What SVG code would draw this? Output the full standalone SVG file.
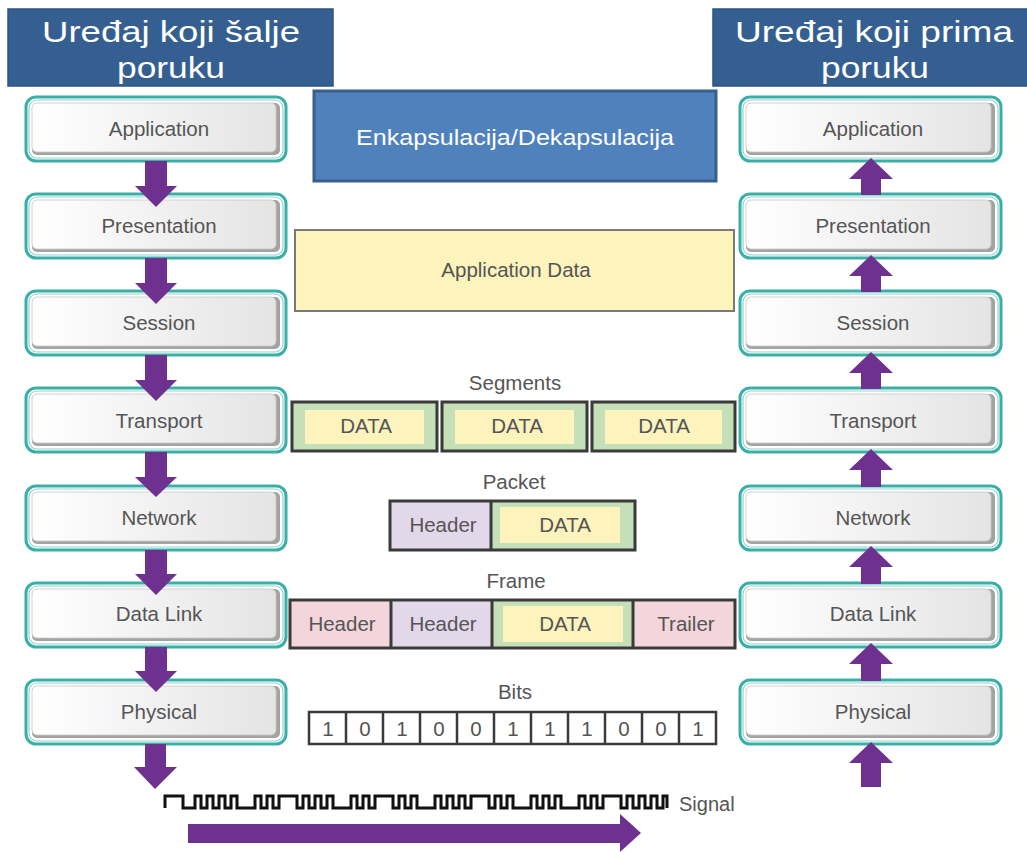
<svg xmlns="http://www.w3.org/2000/svg" width="1027" height="852" viewBox="0 0 1027 852">
<defs>
<linearGradient id="lg" x1="0" y1="0" x2="1" y2="0">
<stop offset="0" stop-color="#ffffff"/>
<stop offset="1" stop-color="#e4e4e4"/>
</linearGradient>
<style>
.title{fill:#365f91;stroke:#2e5381;stroke-width:1.5}
.tt{font-family:"Liberation Sans",Arial,sans-serif;font-size:30px;fill:#ffffff;text-anchor:middle}
.ring{fill:#ffffff;stroke:#3aafa7;stroke-width:3}
.ring2{fill:none;stroke:#8fd6d0;stroke-width:1.2}
.shadow{fill:#a3a3a3}
.inner{fill:url(#lg);stroke:#c8c8c8;stroke-width:0.8}
.lt{font-family:"Liberation Sans",Arial,sans-serif;font-size:20.5px;fill:#555555;text-anchor:middle}
.arr{fill:#6f3190}
.box{stroke:#3a3a3a;stroke-width:3}
.green{fill:#c5dfb9}
.yellow{fill:#fdf3bd}
.lav{fill:#e3d8ea}
.pink{fill:#f3d6dc}
.bit{fill:#ffffff;stroke:#3a3a3a;stroke-width:2.5}
</style>
</defs>
<rect width="1027" height="852" fill="#ffffff"/>

<g id="title-left">
<rect class="title" x="8" y="9" width="325" height="77"/>
<text class="tt" x="171" y="42" textLength="258" lengthAdjust="spacingAndGlyphs">Uređaj koji šalje</text>
<text class="tt" x="171" y="78" textLength="108" lengthAdjust="spacingAndGlyphs">poruku</text>
</g>
<g id="title-right">
<rect class="title" x="713" y="9" width="316" height="77"/>
<text class="tt" x="874" y="42" textLength="278" lengthAdjust="spacingAndGlyphs">Uređaj koji prima</text>
<text class="tt" x="875" y="78" textLength="108" lengthAdjust="spacingAndGlyphs">poruku</text>
</g>

<g id="encap">
<rect x="314" y="91" width="402" height="90" fill="#4f81bd" stroke="#3b5f8b" stroke-width="3"/>
<text x="515" y="145" font-family="'Liberation Sans',Arial,sans-serif" font-size="22px" fill="#ffffff" text-anchor="middle" textLength="318" lengthAdjust="spacingAndGlyphs">Enkapsulacija/Dekapsulacija</text>
</g>

<!-- left layers -->
<g id="l-app"><rect class="ring" x="26" y="97" width="260" height="64" rx="10"/><rect class="ring2" x="29" y="100" width="254" height="58" rx="8"/><rect class="shadow" x="32" y="103" width="248" height="52" rx="5"/><rect class="inner" x="32" y="103" width="244" height="49" rx="5"/><text class="lt" x="159" y="136">Application</text></g>
<g id="l-pres"><rect class="ring" x="26" y="194" width="260" height="64" rx="10"/><rect class="ring2" x="29" y="197" width="254" height="58" rx="8"/><rect class="shadow" x="32" y="200" width="248" height="52" rx="5"/><rect class="inner" x="32" y="200" width="244" height="49" rx="5"/><text class="lt" x="159" y="233">Presentation</text></g>
<g id="l-sess"><rect class="ring" x="26" y="291" width="260" height="64" rx="10"/><rect class="ring2" x="29" y="294" width="254" height="58" rx="8"/><rect class="shadow" x="32" y="297" width="248" height="52" rx="5"/><rect class="inner" x="32" y="297" width="244" height="49" rx="5"/><text class="lt" x="159" y="330">Session</text></g>
<g id="l-trans"><rect class="ring" x="26" y="388" width="260" height="64" rx="10"/><rect class="ring2" x="29" y="391" width="254" height="58" rx="8"/><rect class="shadow" x="32" y="394" width="248" height="52" rx="5"/><rect class="inner" x="32" y="394" width="244" height="49" rx="5"/><text class="lt" x="159" y="428">Transport</text></g>
<g id="l-net"><rect class="ring" x="26" y="486" width="260" height="64" rx="10"/><rect class="ring2" x="29" y="489" width="254" height="58" rx="8"/><rect class="shadow" x="32" y="492" width="248" height="52" rx="5"/><rect class="inner" x="32" y="492" width="244" height="49" rx="5"/><text class="lt" x="159" y="525">Network</text></g>
<g id="l-dl"><rect class="ring" x="26" y="583" width="260" height="64" rx="10"/><rect class="ring2" x="29" y="586" width="254" height="58" rx="8"/><rect class="shadow" x="32" y="589" width="248" height="52" rx="5"/><rect class="inner" x="32" y="589" width="244" height="49" rx="5"/><text class="lt" x="159" y="621">Data Link</text></g>
<g id="l-phy"><rect class="ring" x="26" y="680" width="260" height="64" rx="10"/><rect class="ring2" x="29" y="683" width="254" height="58" rx="8"/><rect class="shadow" x="32" y="686" width="248" height="52" rx="5"/><rect class="inner" x="32" y="686" width="244" height="49" rx="5"/><text class="lt" x="159" y="719">Physical</text></g>

<!-- right layers -->
<g id="r-app"><rect class="ring" x="740" y="97" width="261" height="64" rx="10"/><rect class="ring2" x="743" y="100" width="255" height="58" rx="8"/><rect class="shadow" x="746" y="103" width="249" height="52" rx="5"/><rect class="inner" x="746" y="103" width="245" height="49" rx="5"/><text class="lt" x="873" y="136">Application</text></g>
<g id="r-pres"><rect class="ring" x="740" y="194" width="261" height="64" rx="10"/><rect class="ring2" x="743" y="197" width="255" height="58" rx="8"/><rect class="shadow" x="746" y="200" width="249" height="52" rx="5"/><rect class="inner" x="746" y="200" width="245" height="49" rx="5"/><text class="lt" x="873" y="233">Presentation</text></g>
<g id="r-sess"><rect class="ring" x="740" y="291" width="261" height="64" rx="10"/><rect class="ring2" x="743" y="294" width="255" height="58" rx="8"/><rect class="shadow" x="746" y="297" width="249" height="52" rx="5"/><rect class="inner" x="746" y="297" width="245" height="49" rx="5"/><text class="lt" x="873" y="330">Session</text></g>
<g id="r-trans"><rect class="ring" x="740" y="388" width="261" height="64" rx="10"/><rect class="ring2" x="743" y="391" width="255" height="58" rx="8"/><rect class="shadow" x="746" y="394" width="249" height="52" rx="5"/><rect class="inner" x="746" y="394" width="245" height="49" rx="5"/><text class="lt" x="873" y="428">Transport</text></g>
<g id="r-net"><rect class="ring" x="740" y="486" width="261" height="64" rx="10"/><rect class="ring2" x="743" y="489" width="255" height="58" rx="8"/><rect class="shadow" x="746" y="492" width="249" height="52" rx="5"/><rect class="inner" x="746" y="492" width="245" height="49" rx="5"/><text class="lt" x="873" y="525">Network</text></g>
<g id="r-dl"><rect class="ring" x="740" y="583" width="261" height="64" rx="10"/><rect class="ring2" x="743" y="586" width="255" height="58" rx="8"/><rect class="shadow" x="746" y="589" width="249" height="52" rx="5"/><rect class="inner" x="746" y="589" width="245" height="49" rx="5"/><text class="lt" x="873" y="621">Data Link</text></g>
<g id="r-phy"><rect class="ring" x="740" y="680" width="261" height="64" rx="10"/><rect class="ring2" x="743" y="683" width="255" height="58" rx="8"/><rect class="shadow" x="746" y="686" width="249" height="52" rx="5"/><rect class="inner" x="746" y="686" width="245" height="49" rx="5"/><text class="lt" x="873" y="719">Physical</text></g>

<!-- center data units -->
<g id="appdata">
<rect x="295" y="230" width="439" height="81" fill="#fdf3bd" stroke="#7a7a7a" stroke-width="2"/>
<text class="lt" x="516" y="277">Application Data</text>
</g>

<g id="segments">
<text class="lt" x="515" y="390">Segments</text>
<rect class="box green" x="292" y="402" width="145" height="49"/><rect class="yellow" x="305" y="410" width="119" height="34"/><text class="lt" x="366" y="433">DATA</text>
<rect class="box green" x="442" y="402" width="145" height="49"/><rect class="yellow" x="455" y="410" width="119" height="34"/><text class="lt" x="517" y="433">DATA</text>
<rect class="box green" x="592" y="402" width="143" height="49"/><rect class="yellow" x="605" y="410" width="117" height="34"/><text class="lt" x="664" y="433">DATA</text>
</g>

<g id="packet">
<text class="lt" x="514" y="489">Packet</text>
<rect class="lav" x="390" y="501" width="101" height="49"/>
<rect class="green" x="491" y="501" width="144" height="49"/>
<rect class="yellow" x="500" y="507" width="120" height="36"/>
<rect x="390" y="501" width="245" height="49" fill="none" stroke="#3a3a3a" stroke-width="3"/>
<line x1="491" y1="501" x2="491" y2="550" stroke="#3a3a3a" stroke-width="3"/>
<text class="lt" x="443" y="532">Header</text>
<text class="lt" x="565" y="532">DATA</text>
</g>

<g id="frame">
<text class="lt" x="516" y="588">Frame</text>
<rect class="pink" x="290" y="600" width="101" height="48"/>
<rect class="lav" x="391" y="600" width="101" height="48"/>
<rect class="green" x="492" y="600" width="141" height="48"/>
<rect class="yellow" x="503" y="606" width="120" height="36"/>
<rect class="pink" x="633" y="600" width="102" height="48"/>
<rect x="290" y="600" width="445" height="48" fill="none" stroke="#3a3a3a" stroke-width="3"/>
<line x1="391" y1="600" x2="391" y2="648" stroke="#3a3a3a" stroke-width="3"/>
<line x1="492" y1="600" x2="492" y2="648" stroke="#3a3a3a" stroke-width="3"/>
<line x1="633" y1="600" x2="633" y2="648" stroke="#3a3a3a" stroke-width="3"/>
<text class="lt" x="342" y="631">Header</text>
<text class="lt" x="443" y="631">Header</text>
<text class="lt" x="565" y="631">DATA</text>
<text class="lt" x="686" y="631">Trailer</text>
</g>

<g id="bits">
<text class="lt" x="515" y="699">Bits</text>
<rect class="bit" x="309" y="712" width="407" height="32"/>
<g stroke="#3a3a3a" stroke-width="2.5">
<line x1="346" y1="712" x2="346" y2="744"/><line x1="383" y1="712" x2="383" y2="744"/><line x1="420" y1="712" x2="420" y2="744"/><line x1="457" y1="712" x2="457" y2="744"/><line x1="494" y1="712" x2="494" y2="744"/><line x1="531" y1="712" x2="531" y2="744"/><line x1="568" y1="712" x2="568" y2="744"/><line x1="605" y1="712" x2="605" y2="744"/><line x1="642" y1="712" x2="642" y2="744"/><line x1="679" y1="712" x2="679" y2="744"/>
</g>
<text class="lt" x="328" y="736">1</text><text class="lt" x="365" y="736">0</text><text class="lt" x="402" y="736">1</text><text class="lt" x="439" y="736">0</text><text class="lt" x="476" y="736">0</text><text class="lt" x="513" y="736">1</text><text class="lt" x="550" y="736">1</text><text class="lt" x="587" y="736">1</text><text class="lt" x="624" y="736">0</text><text class="lt" x="661" y="736">0</text><text class="lt" x="698" y="736">1</text>
</g>

<g id="signal">
<path d="M165,808 V796 H183 V808 H195 V796 H201 V808 H207 V796 H213 V808 H219 V796 H225 V808 H231 V796 H237 V808 H255 V796 H261 V808 H267 V796 H273 V808 H279 V796 H297 V808 H303 V796 H309 V808 H315 V796 H321 V808 H327 V796 H333 V808 H351 V796 H357 V808 H363 V796 H369 V808 H375 V796 H393 V808 H399 V796 H405 V808 H411 V796 H417 V808 H435 V796 H441 V808 H447 V796 H453 V808 H459 V796 H465 V808 H471 V796 H489 V808 H495 V796 H501 V808 H507 V796 H513 V808 H531 V796 H537 V808 H543 V796 H549 V808 H555 V796 H561 V808 H579 V796 H585 V808 H591 V796 H597 V808 H603 V796 H621 V808 H627 V796 H633 V808 H639 V796 H645 V808 H651 V796 H657 V808 H663 V796 H667 V808" fill="none" stroke="#111111" stroke-width="3"/>
<text x="679" y="811" font-family="'Liberation Sans',Arial,sans-serif" font-size="20px" fill="#555555">Signal</text>
</g>

<g id="connectors">
<!-- left down arrows -->
<polygon class="arr" points="145,161 167,161 167,186 177,186 156,207 135,186 145,186"/>
<polygon class="arr" points="145,258 167,258 167,283 177,283 156,304 135,283 145,283"/>
<polygon class="arr" points="145,355 167,355 167,380 177,380 156,401 135,380 145,380"/>
<polygon class="arr" points="145,452 167,452 167,477 177,477 156,497 135,477 145,477"/>
<polygon class="arr" points="145,550 167,550 167,574 177,574 156,595 135,574 145,574"/>
<polygon class="arr" points="145,647 167,647 167,671 177,671 156,692 135,671 145,671"/>
<polygon class="arr" points="145,744 166,744 166,767 177,767 155,789 134,767 145,767"/>
<!-- right up arrows -->
<polygon class="arr" points="861,195 881,195 881,179 893,179 871,158 849,179 861,179"/>
<polygon class="arr" points="861,292 881,292 881,276 893,276 871,255 849,276 861,276"/>
<polygon class="arr" points="861,389 881,389 881,373 893,373 871,352 849,373 861,373"/>
<polygon class="arr" points="861,487 881,487 881,470 893,470 871,449 849,470 861,470"/>
<polygon class="arr" points="861,584 881,584 881,567 893,567 871,546 849,567 861,567"/>
<polygon class="arr" points="861,681 881,681 881,664 893,664 871,643 849,664 861,664"/>
<polygon class="arr" points="861,787 881,787 881,763 893,763 871,742 849,763 861,763"/>
<!-- signal arrow -->
<polygon class="arr" points="188,824 620,824 620,814 641,833 620,852 620,843 188,843"/>
</g>
</svg>
